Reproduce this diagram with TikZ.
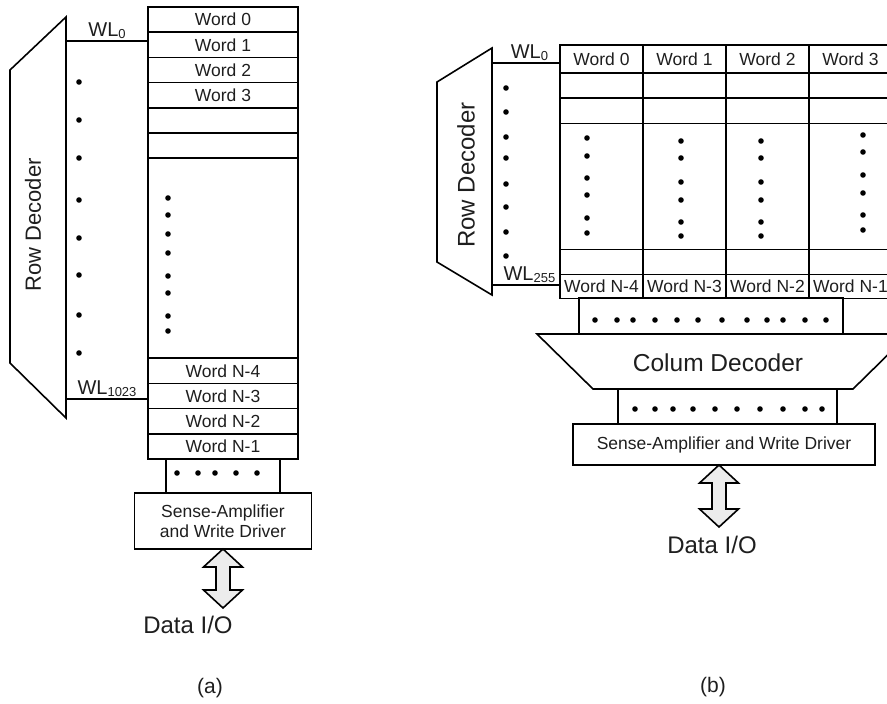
\documentclass[tikz,border=0pt]{standalone}
\usepackage{fontspec}
\setmainfont{Liberation Sans}
\usetikzlibrary{positioning}
\definecolor{txt}{RGB}{30,30,30}
\definecolor{iofill}{RGB}{236,236,236}
\newcommand{\wordfont}{\fontsize{17.5}{20}\selectfont}
\newcommand{\wlfont}{\fontsize{20}{22}\selectfont}
\newcommand{\wlsub}[1]{{\fontsize{13}{13}\selectfont\raisebox{-2pt}{#1}}}

\begin{document}
\begin{tikzpicture}[x=1pt,y=-1pt,
	every node/.style={text=txt},
	wire/.style={line width=1.6pt},
	cell/.style={draw,line width=1.6pt,inner sep=0pt,outer sep=0pt,minimum height=25.2,font=\wordfont},
	box/.style={draw,line width=1.6pt,inner sep=0pt,outer sep=0pt}]
	\useasboundingbox (0,0) rectangle (887,704);
	\clip (0,0) rectangle (887,704);
	%
	% (a) 1024 rows
	\draw[wire] (10,70) -- (66,17) -- (66,418) -- (10,363) -- cycle;
	\node[rotate=90,font=\fontsize{22}{24}\selectfont] (rdA) at (33,225) {Row Decoder};
	\node[cell,minimum width=150,anchor=north west] (a0) at (148,7) {Word 0};
	\node[cell,minimum width=150,below=0pt of a0] (a1) {Word 1};
	\node[cell,minimum width=150,below=0pt of a1] (a2) {Word 2};
	\node[cell,minimum width=150,below=0pt of a2] (a3) {Word 3};
	\node[cell,minimum width=150,below=0pt of a3] (a4) {};
	\node[cell,minimum width=150,below=0pt of a4] (a5) {};
	\node[cell,minimum width=150,minimum height=200,below=0pt of a5] (amid) {};
	\node[cell,minimum width=150,below=0pt of amid] (aN4) {Word N-4};
	\node[cell,minimum width=150,below=0pt of aN4] (aN3) {Word N-3};
	\node[cell,minimum width=150,below=0pt of aN3] (aN2) {Word N-2};
	\node[cell,minimum width=150,below=0pt of aN2] (aN1) {Word N-1};
	%
	\coordinate (wlA0) at (66,41);
	\coordinate (wlA1) at (66,399);
	\draw[wire] (wlA0) -- (wlA0 -| a1.west) node[pos=.5,above,inner sep=2pt,font=\wlfont] {WL\wlsub{0}};
	\draw[wire] (wlA1) -- (wlA1 -| aN3.west) node[pos=.5,above,inner sep=2pt,font=\wlfont] {WL\wlsub{1023}};
	\foreach \y in {82,120,158,200,238,275,315,353} \fill (79,\y) circle (2.8pt);
	\foreach \y in {198,215,234,253,276,293,316,331} \fill (168,\y) circle (2.8pt);
	%
	\node[box,minimum width=114,minimum height=34,anchor=north] (dotsA) at (223,459) {};
	\foreach \x in {177,198,215,236,257} \fill (\x,473) circle (2.8pt);
	\node[box,minimum width=177,minimum height=56,align=center,font=\wordfont,below=0pt of dotsA] (saA) {Sense-Amplifier\\and Write Driver};
	\draw[wire,fill=iofill] (saA.south) -- ++(19.5,18) -- ++(-12.5,0) -- ++(0,23) -- ++(12.5,0) -- ++(-19.5,18)
		-- ++(-19.5,-18) -- ++(12.5,0) -- ++(0,-23) -- ++(-12.5,0) -- cycle;
	\node[font=\fontsize{24}{26}\selectfont] (ioA) at (188,625) {Data I/O};
	\node[font=\fontsize{21}{24}\selectfont] (capA) at (210,688) {(a)};
	%
	% (b) 256 rows, 4 columns
	\draw[wire] (437,82) -- (492,48) -- (492,295) -- (437,262) -- cycle;
	\node[rotate=90,font=\fontsize{24}{26}\selectfont] (rdB) at (466,175) {Row Decoder};
	\foreach \col/\last in {0/4,1/3,2/2,3/1} {
		\node[cell,minimum width=83,minimum height=28,anchor=north west] (t\col) at ({560+83*\col},45) {Word \col};
		\node[cell,minimum width=83,below=0pt of t\col] (r\col) {};
		\node[cell,minimum width=83,below=0pt of r\col] (s\col) {};
		\node[cell,minimum width=83,minimum height=126,below=0pt of s\col] (m\col) {};
		\node[cell,minimum width=83,below=0pt of m\col] (u\col) {};
		\node[cell,minimum width=83,minimum height=24,below=0pt of u\col] (n\col) {Word N-\last};
	}
	\coordinate (wlB0) at (492,63);
	\coordinate (wlB1) at (492,285);
	\draw[wire] (wlB0) -- (wlB0 -| t0.west) node[pos=.55,above,inner sep=2pt,font=\wlfont] {WL\wlsub{0}};
	\draw[wire] (wlB1) -- (wlB1 -| n0.west) node[pos=.55,above,inner sep=2pt,font=\wlfont] {WL\wlsub{255}};
	\foreach \y in {88,112,137,158,184,207,232,256} \fill (506,\y) circle (2.8pt);
	\foreach \y in {138,156,178,195,218,233} \fill (587,\y) circle (2.8pt);
	\foreach \y in {141,158,182,200,222,236} {
		\fill (681,\y) circle (2.8pt);
		\fill (761,\y) circle (2.8pt);
	}
	\foreach \y in {135,152,175,193,215,230} \fill (863,\y) circle (2.8pt);
	%
	\node[box,minimum width=264,minimum height=36,anchor=north] (dotsB) at (711,298) {};
	\foreach \x in {595,617,633,655,677,698,722,747,767,783,805,826} \fill (\x,320) circle (2.8pt);
	\draw[wire] (537,334) -- (909,334) -- (853,389) -- (593,389) -- cycle;
	\node[font=\fontsize{24.5}{26}\selectfont] (cd) at (718,363) {Colum Decoder};
	\node[box,minimum width=219,minimum height=35,anchor=north] (dotsC) at (727.5,389) {};
	\foreach \x in {635,655,673,693,715,737,760,783,805,822} \fill (\x,409) circle (2.8pt);
	\node[box,minimum width=302,minimum height=41,font=\wordfont,below=0pt of dotsC,xshift=-3.5pt] (saB) {Sense-Amplifier and Write Driver};
	\draw[wire,fill=iofill] ([xshift=-5pt]saB.south) -- ++(19.5,18) -- ++(-12.5,0) -- ++(0,26) -- ++(12.5,0) -- ++(-19.5,18)
		-- ++(-19.5,-18) -- ++(12.5,0) -- ++(0,-26) -- ++(-12.5,0) -- cycle;
	\node[font=\fontsize{24}{26}\selectfont] (ioB) at (712,545) {Data I/O};
	\node[font=\fontsize{21}{24}\selectfont] (capB) at (713,687) {(b)};
\end{tikzpicture}
\end{document}
